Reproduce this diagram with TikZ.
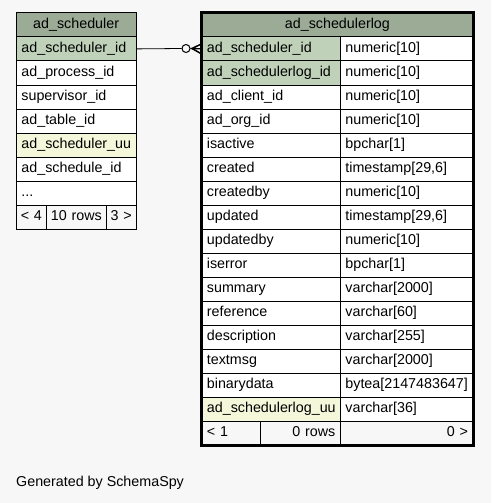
\documentclass[tikz,border=0pt]{standalone}
\usepackage{fontspec}
\setmainfont{Liberation Sans}
\usetikzlibrary{positioning,calc}
\definecolor{pagegray}{RGB}{247,247,247}
\definecolor{headgreen}{RGB}{155,171,150}
\definecolor{keygreen}{RGB}{191,210,185}
\definecolor{uuyellow}{RGB}{244,247,218}

\tikzset{
  cell/.style={draw,anchor=north west,minimum height=24pt,inner ysep=0pt,inner xsep=5pt,
    text height=10.5pt,text depth=3pt,align=left,line width=0.8pt,
    font=\fontsize{14.3}{16}\selectfont},
  headcell/.style={cell,fill=headgreen,align=center},
  footcell/.style={cell,fill=pagegray},
}

\begin{document}
\begin{tikzpicture}[x=1pt,y=-1pt]
    % page
    \fill[pagegray] (0,0) rectangle (491,503);
    \useasboundingbox (0,0) rectangle (491,503);

    % Parent table
    \node[headcell,text width=109.5pt] (shead) at (16,12.5) {ad\_scheduler};
    \foreach \n/\c [count=\i] in {ad\_scheduler\_id/keygreen,ad\_process\_id/white,
      supervisor\_id/white,ad\_table\_id/white,ad\_scheduler\_uu/uuyellow,
      ad\_schedule\_id/white,{.{}.{}.}/white}
      \node[cell,fill=\c,text width=109.5pt] (s\i) at (16,12.5+24*\i) {\n};
    \node[footcell,inner xsep=2pt,text width=26pt,align=center] (sf1) at (16,204.5) {< 4};
    \node[footcell,inner xsep=2pt,text width=56pt,align=center] (sf2) at (46,204.5) {10 rows};
    \node[footcell,inner xsep=2pt,text width=25.5pt,align=center] (sf3) at (106,204.5) {3 >};

    % Child table
    \node[headcell,text width=261pt] (lhead) at (201.5,12.5) {ad\_schedulerlog};
    \foreach \n/\t/\c [count=\i] in {ad\_scheduler\_id/numeric[10]/keygreen,
      ad\_schedulerlog\_id/numeric[10]/keygreen,ad\_client\_id/numeric[10]/white,
      ad\_org\_id/numeric[10]/white,isactive/bpchar[1]/white,
      created/{timestamp[29,6]}/white,createdby/numeric[10]/white,
      updated/{timestamp[29,6]}/white,updatedby/numeric[10]/white,
      iserror/bpchar[1]/white,summary/varchar[2000]/white,
      reference/varchar[60]/white,description/varchar[255]/white,
      textmsg/varchar[2000]/white,binarydata/bytea[2147483647]/white,
      ad\_schedulerlog\_uu/varchar[36]/uuyellow} {
      \node[cell,fill=\c,text width=128.5pt] (l\i) at (201.5,12.5+24*\i) {\n};
      \node[cell,fill=white,text width=122.5pt] (t\i) at (340,12.5+24*\i) {\t};
    }
    \node[footcell,text width=48.5pt] (lf1) at (201.5,420.5) {< 1};
    \node[footcell,text width=70pt,align=right] (lf2) at (260,420.5) {0 rows};
    \node[footcell,text width=122.5pt,align=right] (lf3) at (340,420.5) {0 >};
    \draw[line width=3pt] (lhead.north west) rectangle (lf3.south east);

    % Relationship
    \node[circle,draw,minimum size=8pt,inner sep=0pt,line width=1pt] (opt) at (186,48.5) {};
    \coordinate (foot) at (192,48.5);
    \draw[line width=0.8pt] (s1.east) -- (opt.west);
    \draw[line width=1.2pt] (opt.east) -- (l1.west);
    \draw[line width=1.5pt] ($(l1.west)+(0,-5)$) -- (foot) -- ($(l1.west)+(0,5)$);

    % Footer
    \node[anchor=west,inner sep=0pt,font=\fontsize{14.3}{16}\selectfont] (gen) at (16,483) {Generated by SchemaSpy};
  \end{tikzpicture}
\end{document}
